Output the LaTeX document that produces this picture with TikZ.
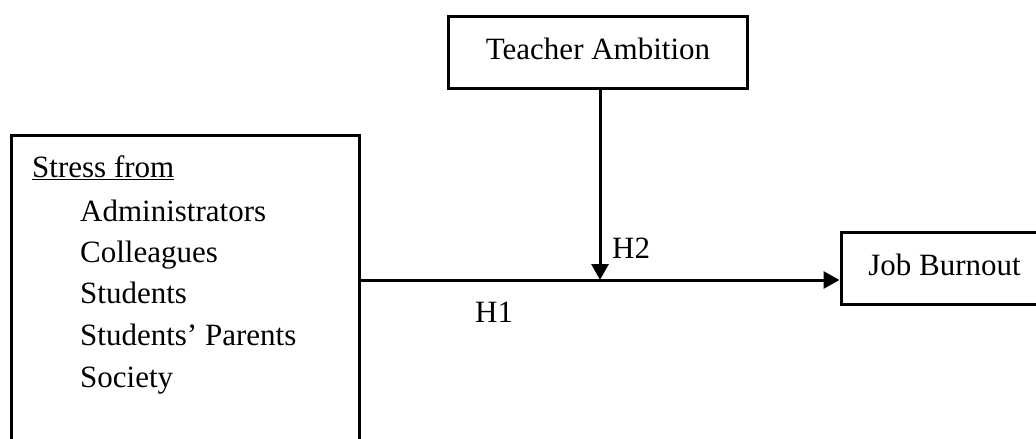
\documentclass[tikz,border=0pt]{standalone}
\usepackage{fontspec}
\setmainfont{Liberation Serif}
\usetikzlibrary{arrows.meta}
\begin{document}
\begin{tikzpicture}[x=1pt,y=1pt,
  every node/.style={font=\fontsize{31}{41.5}\selectfont},
  txt/.style={inner sep=0pt, anchor=base west},
  boxnode/.style={draw, line width=3pt, rectangle, inner sep=0pt},
  conn/.style={line width=3pt},
  arr/.style={conn, -{Triangle[length=16pt,width=17pt]}}]
\useasboundingbox (0,0) rectangle (1036,-439);
% Teacher Ambition
\node[boxnode, minimum width=299pt, minimum height=72pt] (ta) at (597.5,-52) {};
\node[txt, anchor=base] (tat) at (598,-59) {Teacher Ambition};
% Job Burnout (right edge beyond the page)
\node[boxnode, minimum width=230pt, minimum height=72pt] (jb) at (956,-268) {};
\node[txt, anchor=base] (jbt) at (944.5,-275) {Job Burnout};
% Stress box (open at bottom, cut by page)
\node[minimum width=348pt, minimum height=320pt, inner sep=0pt, anchor=north west] (src) at (11,-135) {};
\draw[line width=3pt] (src.south west) -- (src.north west) -- (src.north east) -- (src.south east);
\node[txt] (s0) at (32,-177) {\underline{Stress from}};
\node[txt] (s1) at (80,-221) {Administrators};
\node[txt] (s2) at (80,-262) {Colleagues};
\node[txt] (s3) at (80,-303) {Students};
\node[txt] (s4) at (80,-345) {Students’ Parents};
\node[txt] (s5) at (80,-387) {Society};
% connectors
\coordinate (m) at (600,-280);
\coordinate (srcout) at (src.east |- m);
\draw[arr] (srcout) -- (srcout -| jb.west);
\draw[arr] (ta.south -| m) -- (m);
\node[txt] (h2) at (612,-258) {H2};
\node[txt] (h1) at (475,-322) {H1};
\end{tikzpicture}
\end{document}
